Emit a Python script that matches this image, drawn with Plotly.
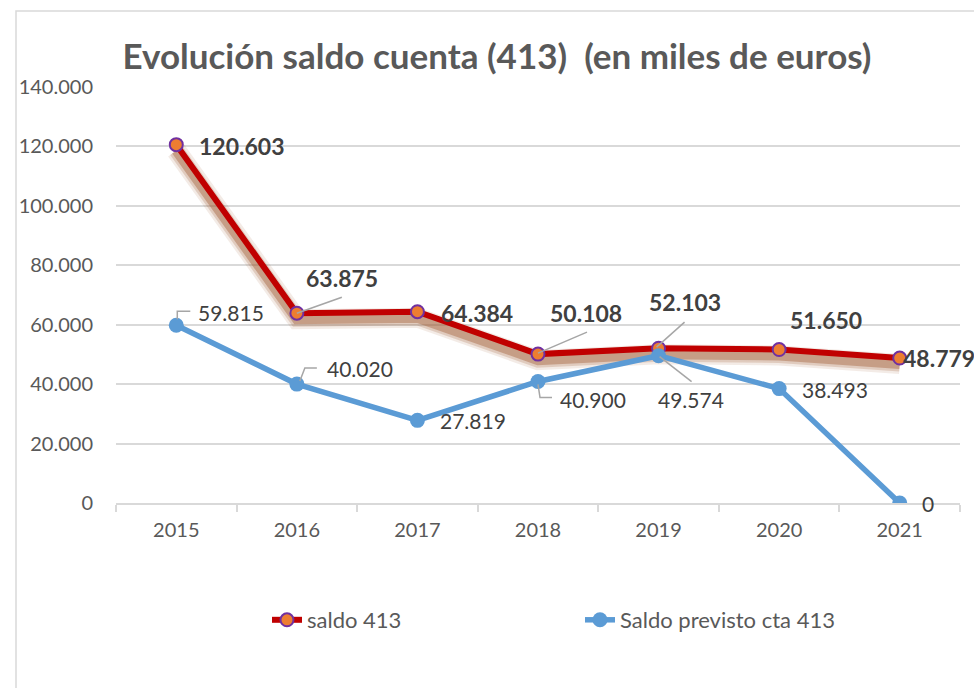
import plotly.graph_objects as go

# Data (thousands of euros)
years = ["2015", "2016", "2017", "2018", "2019", "2020", "2021"]
saldo_413 = [120603, 63875, 64384, 50108, 52103, 51650, 48779]
saldo_previsto = [59815, 40020, 27819, 40900, 49574, 38493, 0]
y_ticks = [0, 20000, 40000, 60000, 80000, 100000, 120000, 140000]

TITLE = "Evolución saldo cuenta (413)  (en miles de euros)"
NAME_RED = "saldo 413"
NAME_BLUE = "Saldo previsto cta 413"

FONT = "Lato"
RED = "#C00000"
ORANGE = "#ED7D31"
PURPLE = "#7030A0"
BLUE = "#5B9BD5"
LABEL = "#404040"
AXIS_TXT = "#595959"
GRID = "#D9D9D9"
LEADER = "#A6A6A6"

W, H = 974, 688
M_L, M_R, M_T, M_B = 116, 14, 87, 185
Y_MAX = 140000
plot_h = H - M_T - M_B
plot_w = W - M_L - M_R
px_to_units = Y_MAX / plot_h
xpos = list(range(len(years)))  # category index of each year


def fmt(v):
    return f"{v:,}".replace(",", ".")


fig = go.Figure()

# soft drop shadow under the red series (a few translucent layers, shifted down)
shadow_shift = 6 * px_to_units
for width, alpha in [(20, 0.12), (15, 0.22), (10, 0.40)]:
    fig.add_trace(go.Scatter(
        x=years, y=[v - shadow_shift for v in saldo_413], mode="lines",
        line=dict(color=f"rgba(160,90,50,{alpha})", width=width),
        showlegend=False, hoverinfo="skip"))

fig.add_trace(go.Scatter(
    x=years, y=saldo_413, mode="lines+markers", name=NAME_RED,
    line=dict(color=RED, width=6),
    marker=dict(size=13, color=ORANGE, line=dict(color=PURPLE, width=2))))

fig.add_trace(go.Scatter(
    x=years, y=saldo_previsto, mode="lines+markers", name=NAME_BLUE,
    line=dict(color=BLUE, width=5.5),
    marker=dict(size=15, color=BLUE)))

# data labels: (xshift, yshift) in pixels from each point
red_shift = [(66, -1), (45, 35), (60, -1), (48, 41), (26, 46), (47, 30), (39, 0)]
blue_shift = [(55, 13), (63, 16), (56, 0), (55, -18), (32, -44), (56, -1), (28, 0)]

annotations = []
for xi, v, (dx, dy) in zip(xpos, saldo_413, red_shift):
    annotations.append(dict(
        x=xi, y=v, xref="x", yref="y", text=f"<b>{fmt(v)}</b>", showarrow=False,
        xshift=dx, yshift=dy,
        font=dict(family=FONT, size=23, color=LABEL)))
for xi, v, (dx, dy) in zip(xpos, saldo_previsto, blue_shift):
    annotations.append(dict(
        x=xi, y=v, xref="x", yref="y", text=fmt(v), showarrow=False,
        xshift=dx, yshift=dy,
        font=dict(family=FONT, size=21, color=LABEL)))

# leader lines, as pixel paths anchored to their points
red_leaders = {1: "M 0,0 L 45,16", 3: "M 0,1 L 49,22", 4: "M -2,1 L 26,26"}
blue_leaders = {0: "M 1,6 L 1,14 L 14,14", 1: "M 3,3 L 8,16 L 20,16",
                3: "M 0,-3 L 2,-16 L 14,-16", 4: "M 1,-1 L 33,-26"}
shapes = []
for series, leaders in [(saldo_413, red_leaders), (saldo_previsto, blue_leaders)]:
    for i, path in leaders.items():
        shapes.append(dict(
            type="path", xref="x", yref="y",
            xsizemode="pixel", ysizemode="pixel",
            xanchor=xpos[i], yanchor=series[i], path=path,
            line=dict(color=LEADER, width=1.5)))

# chart-area frame
shapes.append(dict(
    type="rect", xref="paper", yref="paper", layer="below",
    x0=(16 - M_L) / plot_w, x1=(W + 10 - M_L) / plot_w,
    y0=(H - M_B - (H + 10)) / plot_h, y1=(H - M_B - 11) / plot_h,
    line=dict(color=GRID, width=1.5), fillcolor="rgba(0,0,0,0)"))

fig.update_layout(
    width=W, height=H,
    margin=dict(l=M_L, r=M_R, t=M_T, b=M_B),
    paper_bgcolor="white", plot_bgcolor="white",
    separators=",.",
    font=dict(family=FONT, color=AXIS_TXT),
    title=dict(text=f"<b>{TITLE}</b>", x=497 / W, xanchor="center",
               y=1 - 57 / H, yanchor="middle",
               font=dict(family=FONT, size=35, color=AXIS_TXT)),
    showlegend=True,
    legend=dict(orientation="h", x=(267 - M_L) / plot_w, xanchor="left",
                y=(H - M_B - 620) / plot_h, yanchor="middle",
                entrywidth=268, font=dict(family=FONT, size=22, color=AXIS_TXT),
                bgcolor="rgba(0,0,0,0)"),
    annotations=annotations,
    shapes=shapes,
    hovermode=False,
)

fig.update_xaxes(
    type="category", range=[-0.5, len(years) - 0.5],
    showline=True, linecolor=GRID, linewidth=1.5,
    ticks="outside", tickson="boundaries", ticklen=7, tickcolor=GRID,
    tickwidth=1.5, showgrid=False, zeroline=False,
    tickfont=dict(family=FONT, size=20, color=AXIS_TXT),
    ticklabelstandoff=8)

fig.update_yaxes(
    range=[0, Y_MAX], tickvals=y_ticks, tickformat=",d",
    showgrid=True, gridcolor=GRID, gridwidth=1.5,
    zeroline=False, showline=False, ticks="",
    tickfont=dict(family=FONT, size=20, color=AXIS_TXT),
    ticklabelstandoff=22)

fig.write_html("out.html")
